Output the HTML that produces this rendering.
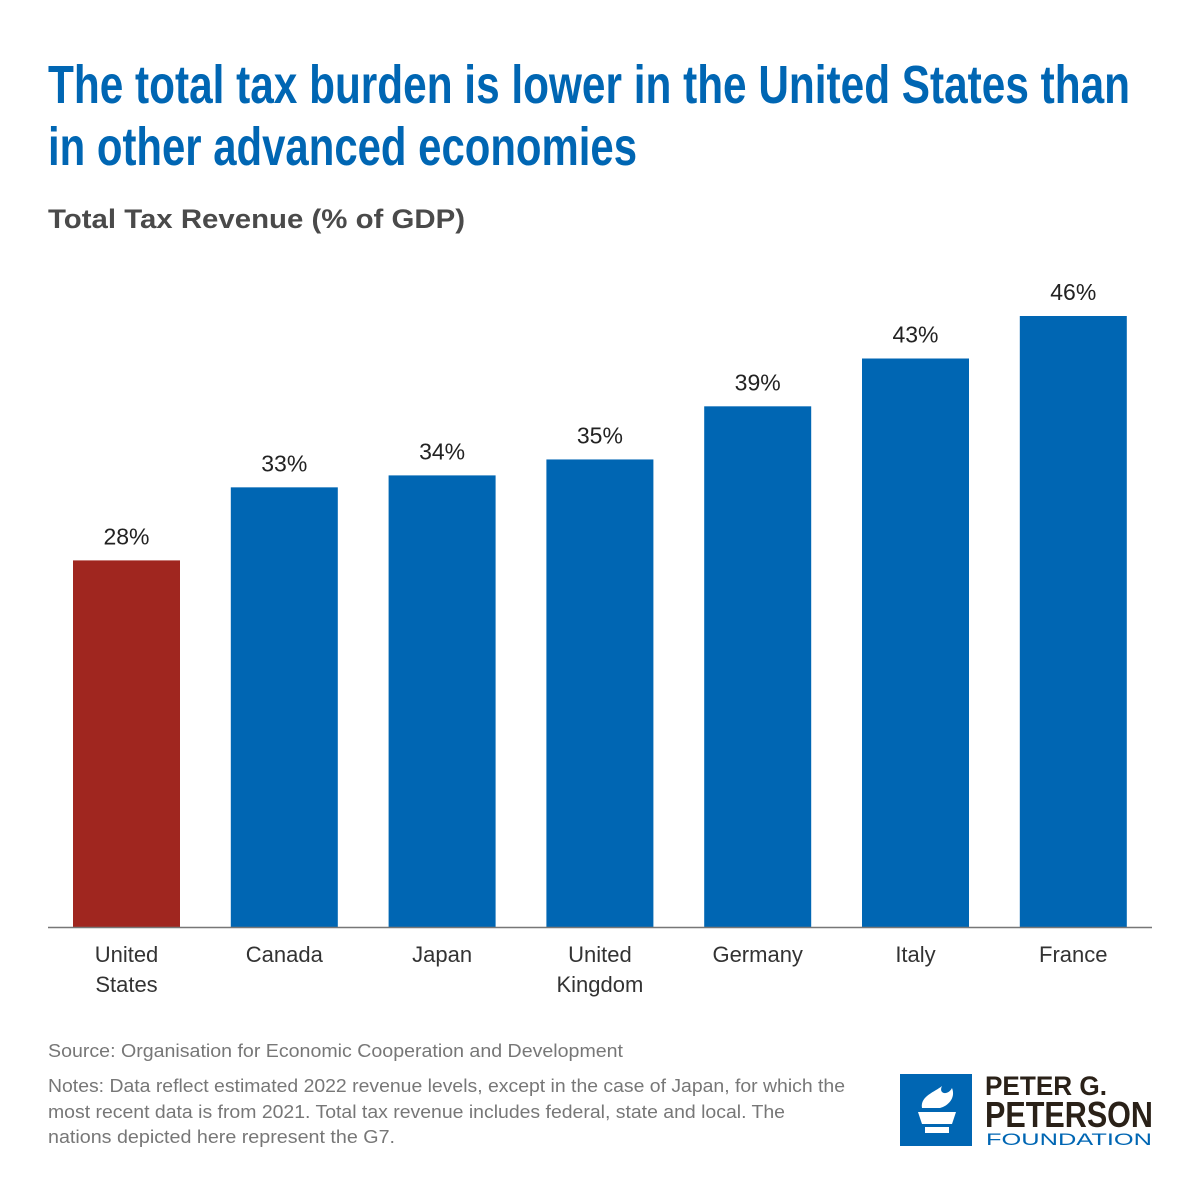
<!DOCTYPE html>
<html><head><meta charset="utf-8"><style>
html,body{margin:0;padding:0;background:#fff}
svg{display:block}
text{font-family:"Liberation Sans",sans-serif}
</style></head><body>
<svg id="chart" width="1200" height="1200" viewBox="0 0 1200 1200" xmlns="http://www.w3.org/2000/svg">
<rect width="1200" height="1200" fill="#fff"/>
<text x="48" y="103" font-size="54" font-weight="bold" fill="#0066b3" textLength="1082" lengthAdjust="spacingAndGlyphs">The total tax burden is lower in the United States than</text>
<text x="48" y="165" font-size="54" font-weight="bold" fill="#0066b3" textLength="589" lengthAdjust="spacingAndGlyphs">in other advanced economies</text>
<text x="48" y="228" font-size="27" font-weight="bold" fill="#4a4a4a" textLength="417" lengthAdjust="spacingAndGlyphs">Total Tax Revenue (% of GDP)</text>
<g id="bars"></g>
<line x1="48" y1="927.5" x2="1152" y2="927.5" stroke="#777" stroke-width="1.5"/>
<g font-size="18" fill="#777">
<text x="48" y="1057" textLength="575" lengthAdjust="spacingAndGlyphs">Source: Organisation for Economic Cooperation and Development</text>
<text x="48" y="1092" textLength="797" lengthAdjust="spacingAndGlyphs">Notes: Data reflect estimated 2022 revenue levels, except in the case of Japan, for which the</text>
<text x="48" y="1118" textLength="737" lengthAdjust="spacingAndGlyphs">most recent data is from 2021. Total tax revenue includes federal, state and local. The</text>
<text x="48" y="1143" textLength="347" lengthAdjust="spacingAndGlyphs">nations depicted here represent the G7.</text>
</g>
<g>
<rect x="900" y="1074" width="72" height="72" fill="#0066b3"/>
<path d="M918 1112 L956 1112 L952 1124 L922 1124 Z M925 1127 L949 1127 L949 1133 L925 1133 Z" fill="#fff"/>
<path d="M922 1108 C920 1096 935 1092 942 1086 C938 1094 948 1096 952 1088 C956 1098 948 1106 940 1108 Z" fill="#fff"/>
<text x="985" y="1095" font-size="27" font-weight="bold" fill="#2a2118" textLength="122" lengthAdjust="spacingAndGlyphs">PETER G.</text>
<text x="985" y="1127" font-size="36" font-weight="bold" fill="#2a2118" textLength="168" lengthAdjust="spacingAndGlyphs">PETERSON</text>
<text x="986" y="1145" font-size="17" fill="#0066b3" textLength="166" lengthAdjust="spacingAndGlyphs">FOUNDATION</text>
</g>
</svg>
<script>
const categories = [["United","States"],["Canada"],["Japan"],["United","Kingdom"],["Germany"],["Italy"],["France"]];
const values = [27.6, 33.1, 34.0, 35.2, 39.2, 42.8, 46.0];
const valueLabels = ["28%","33%","34%","35%","39%","43%","46%"];
const colors = ["#a0261f","#0066b3","#0066b3","#0066b3","#0066b3","#0066b3","#0066b3"];

const NS = "http://www.w3.org/2000/svg";
const baseY = 927, pxPer = 611/46;
const x0 = 73, step = 157.8, bw = 107;
function xPos(i){ return x0 + i*step; }
function yPos(v){ return baseY - v*pxPer; }
const g = document.getElementById('bars');
values.forEach((v,i)=>{
  const r = document.createElementNS(NS,'rect');
  
  
  r.setAttribute('x', xPos(i)); r.setAttribute('y', yPos(v));
  r.setAttribute('width', bw); r.setAttribute('height', baseY - yPos(v));
  r.setAttribute('fill', colors[i]);
  g.appendChild(r);
  const t = document.createElementNS(NS,'text');
  
  
  t.setAttribute('x', xPos(i)+bw/2); t.setAttribute('y', yPos(v)-16);
  t.setAttribute('text-anchor','middle'); t.setAttribute('font-size','23'); t.setAttribute('fill','#222');
  t.textContent = valueLabels[i];
  g.appendChild(t);
  categories[i].forEach((line,j)=>{
    const c = document.createElementNS(NS,'text');
    
    
    c.setAttribute('x', xPos(i)+bw/2); c.setAttribute('y', 962 + j*30);
    c.setAttribute('text-anchor','middle'); c.setAttribute('font-size','22'); c.setAttribute('fill','#333');
    c.textContent = line;
    g.appendChild(c);
  });
});
</script>
</body></html>
